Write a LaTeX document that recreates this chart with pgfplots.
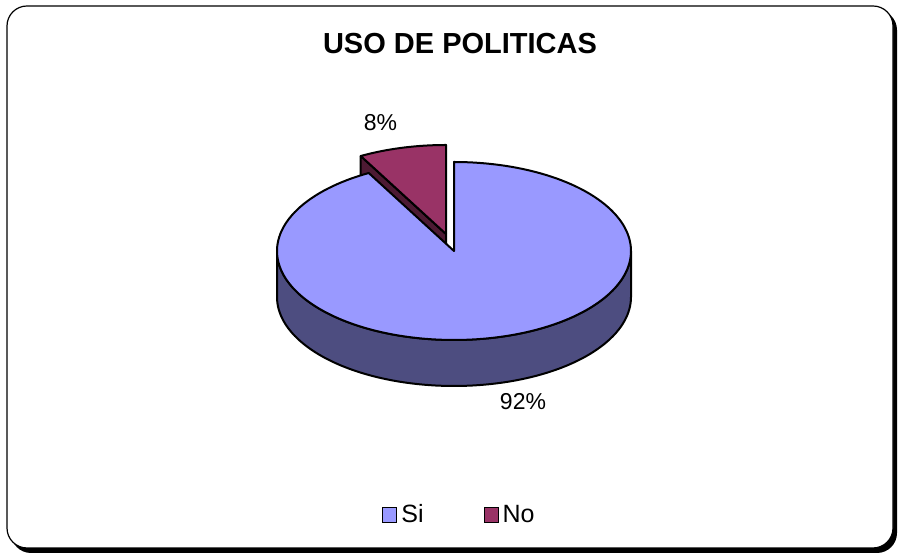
\documentclass[border=0pt]{standalone}
\usepackage{fontspec}
\setmainfont{Liberation Sans}
\usepackage{pgfplots}
\pgfplotsset{compat=1.18}
\usepackage{pgfplotstable}

\definecolor{siTop}{RGB}{153,153,255}
\definecolor{siSide}{RGB}{77,77,128}
\definecolor{noTop}{RGB}{153,51,102}
\definecolor{noSide}{RGB}{77,26,51}

\pgfplotsset{boxlegend/.style={legend image code/.code={\draw[##1] (0pt,-3.75pt) rectangle (7pt,3.75pt);}}}

\pgfplotstableread{
label value
Si 92
No 8
}\piedata

\pgfplotstablegetelem{0}{value}\of\piedata \let\vSi\pgfplotsretval
\pgfplotstablegetelem{1}{value}\of\piedata \let\vNo\pgfplotsretval

\def\cx{454}\def\cy{304}\def\rx{177}\def\ry{89}\def\dd{46}
\def\ox{-8}\def\oy{17}
\pgfmathsetmacro\aNo{90+3.6*\vNo}
\pgfmathsetmacro\aSiEnd{\aNo+3.6*\vSi}
\pgfmathsetmacro\ncx{\cx+\ox}
\pgfmathsetmacro\ncy{\cy+\oy}
\pgfmathsetmacro\nex{\ncx+\rx*cos(\aNo)}
\pgfmathsetmacro\ney{\ncy+\ry*sin(\aNo)}
\pgfmathsetmacro\neyd{\ney-\dd}
\pgfmathsetmacro\ncyd{\ncy-\dd}

\begin{document}
\begin{tikzpicture}
\begin{axis}[
  x=0.5pt, y=0.5pt,
  xmin=0, xmax=899, ymin=0, ymax=555,
  hide axis, clip=false,
  legend columns=2,
  legend style={draw=none, fill=none, at={(0.5122,0.0721)}, anchor=center,
    font=\fontsize{12.5}{14}\selectfont,
    /tikz/every even column/.append style={column sep=28pt}},
]
\path (axis cs:0,0) rectangle (axis cs:899,555);
\fill[black, rounded corners=10pt] (axis cs:11,2) rectangle (axis cs:897,545);
\filldraw[fill=white, draw=black, line width=0.6pt, rounded corners=10pt] (axis cs:7,7) rectangle (axis cs:893,549);

\addplot[forget plot, fill=noSide, draw=black, line width=1pt, line join=round]
  coordinates {(\ncx,\ncy) (\nex,\ney) (\nex,\neyd) (\ncx,\ncyd)} -- cycle;
\addplot[forget plot, fill=noTop, draw=black, line width=1pt, line join=round,
  domain=90:\aNo, samples=20, variable=\t]
  ({\ncx+\rx*cos(\t)},{\ncy+\ry*sin(\t)}) -- (axis cs:\ncx,\ncy) -- cycle;
\addplot[forget plot, fill=siSide, draw=black, line width=1pt, line join=round,
  samples at={0,2,...,180,181,183,...,361}, variable=\t]
  ({\cx+\rx*cos(\t<=180 ? 180+\t : 541-\t)},
   {\cy+\ry*sin(\t<=180 ? 180+\t : 541-\t)-(\t>180)*\dd}) -- cycle;
\addplot[forget plot, fill=siTop, draw=black, line width=1pt, line join=round,
  domain=\aNo:\aSiEnd, samples=160, variable=\t]
  ({\cx+\rx*cos(\t)},{\cy+\ry*sin(\t)}) -- (axis cs:\cx,\cy) -- cycle;

\addlegendimage{boxlegend, fill=siTop, draw=black, line width=0.5pt}
\addlegendentry{Si}
\addlegendimage{boxlegend, fill=noTop, draw=black, line width=0.5pt}
\addlegendentry{No}

\node[font=\bfseries\fontsize{14.5}{17}\selectfont] at (axis cs:460,511.5) {USO DE POLITICAS};
\node[font=\fontsize{11.5}{13}\selectfont] at (axis cs:380.5,432.5) {8\%};
\node[font=\fontsize{11.5}{13}\selectfont] at (axis cs:523,153) {92\%};
\end{axis}
\end{tikzpicture}
\end{document}
